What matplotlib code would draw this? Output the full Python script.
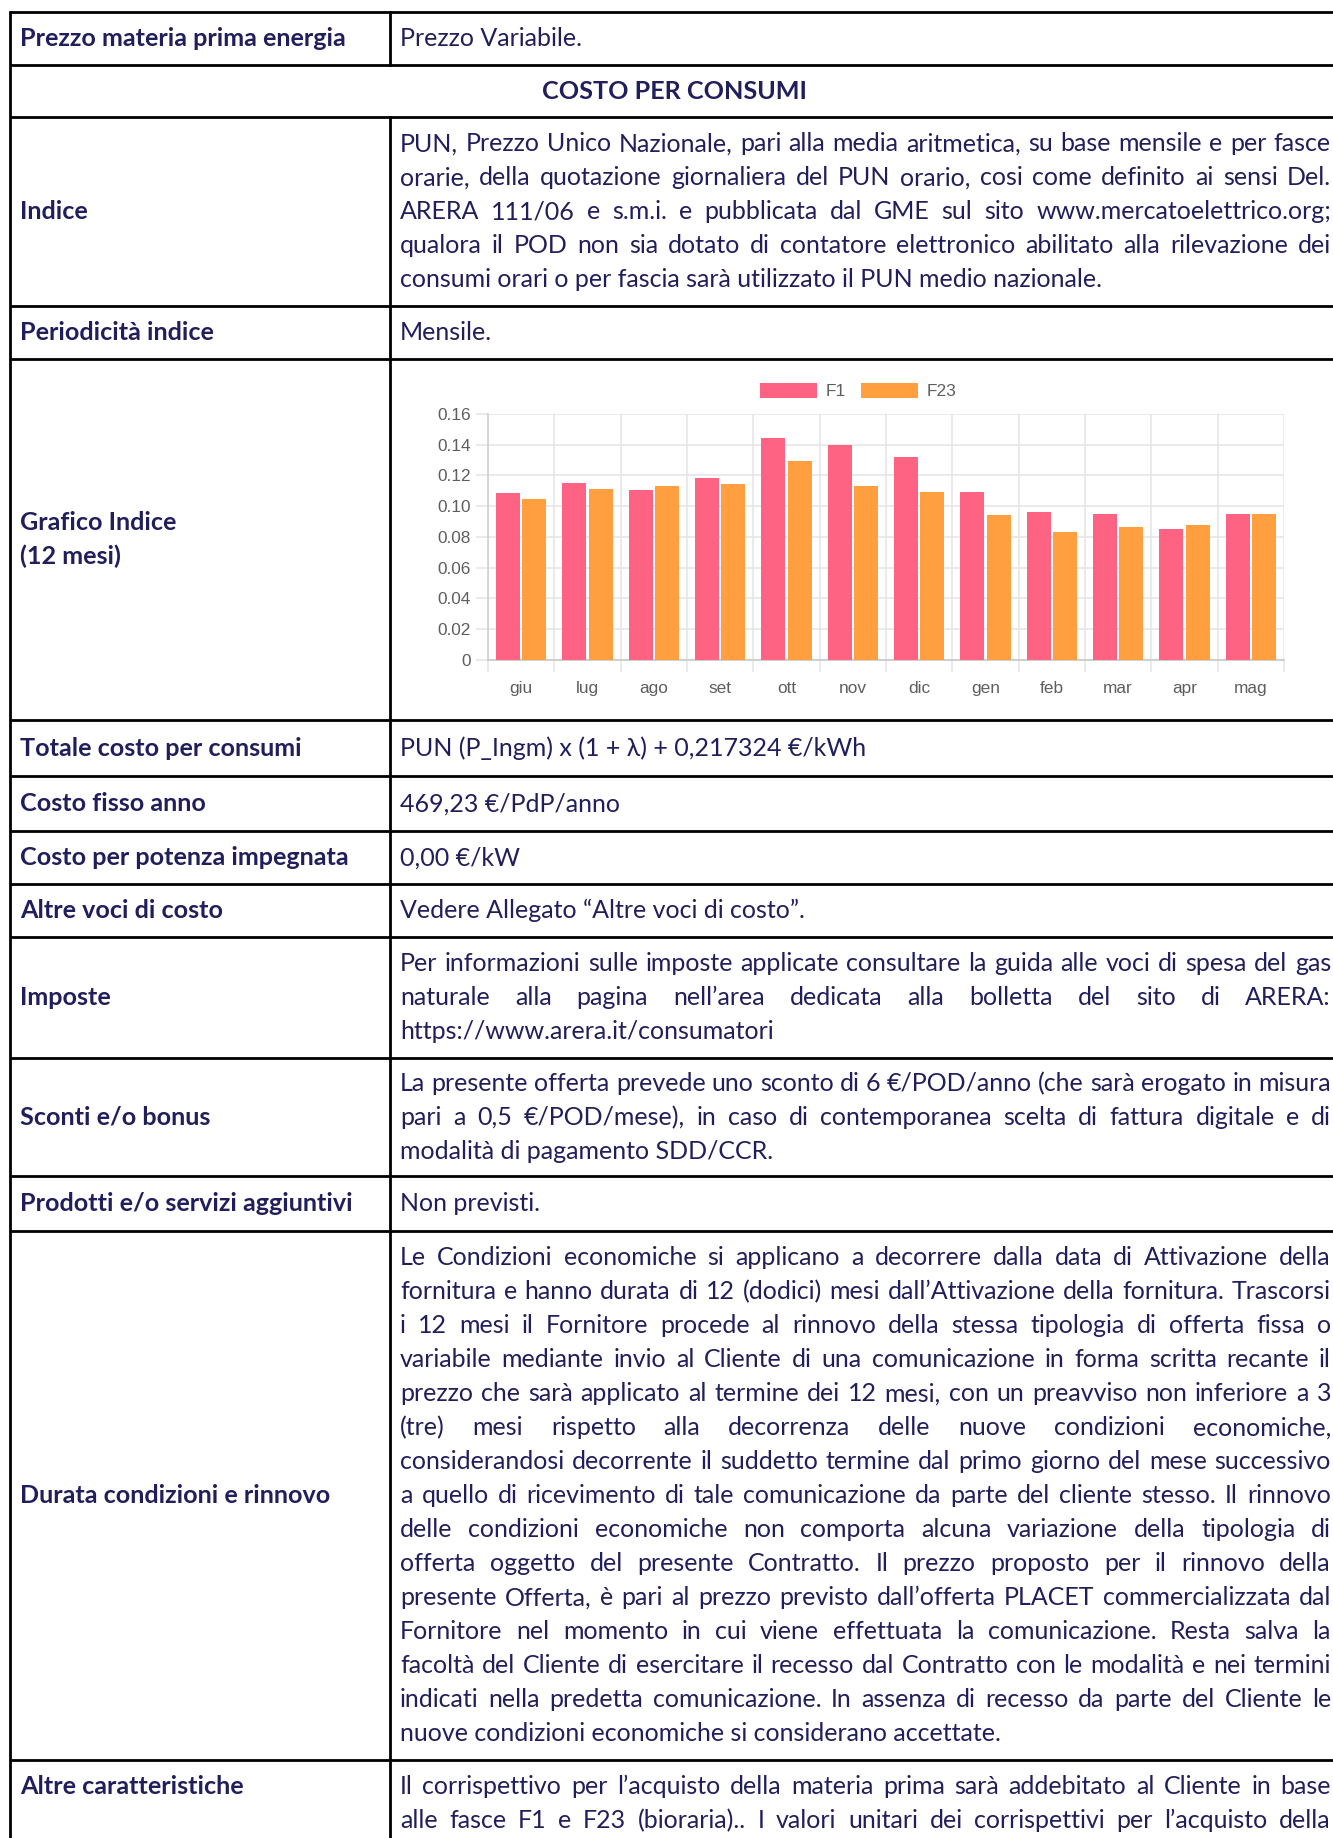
import matplotlib
matplotlib.use("Agg")
import matplotlib.pyplot as plt
from matplotlib.patches import Patch
import numpy as np

# ---------------- data ----------------
months = ["giu", "lug", "ago", "set", "ott", "nov", "dic", "gen", "feb", "mar", "apr", "mag"]
f1_values = [0.1083, 0.1151, 0.1104, 0.1186, 0.1445, 0.1397, 0.1320, 0.1095, 0.0962, 0.0949, 0.0854, 0.0949]
f23_values = [0.1044, 0.1111, 0.1130, 0.1143, 0.1294, 0.1132, 0.1095, 0.0942, 0.0835, 0.0863, 0.0875, 0.0949]
series_names = ["F1", "F23"]
y_ticks = [0, 0.02, 0.04, 0.06, 0.08, 0.10, 0.12, 0.14, 0.16]
y_tick_labels = ["0", "0.02", "0.04", "0.06", "0.08", "0.10", "0.12", "0.14", "0.16"]

row_labels = [
    ["Prezzo materia prima energia"],
    None,
    ["Indice"],
    ["Periodicità indice"],
    ["Grafico Indice", "(12 mesi)"],
    ["Totale costo per consumi"],
    ["Costo fisso anno"],
    ["Costo per potenza impegnata"],
    ["Altre voci di costo"],
    ["Imposte"],
    ["Sconti e/o bonus"],
    ["Prodotti e/o servizi aggiuntivi"],
    ["Durata condizioni e rinnovo"],
    ["Altre caratteristiche"],
]
header_text = "COSTO PER CONSUMI"
row_texts = [
    ["Prezzo Variabile."],
    None,
    ["PUN, Prezzo Unico Nazionale, pari alla media aritmetica, su base mensile e per fasce",
     "orarie, della quotazione giornaliera del PUN orario, cosi come definito ai sensi Del.",
     "ARERA 111/06 e s.m.i. e pubblicata dal GME sul sito www.mercatoelettrico.org;",
     "qualora il POD non sia dotato di contatore elettronico abilitato alla rilevazione dei",
     "consumi orari o per fascia sarà utilizzato il PUN medio nazionale."],
    ["Mensile."],
    None,
    ["PUN (P_Ingm) x (1 + λ) + 0,217324 €/kWh"],
    ["469,23 €/PdP/anno"],
    ["0,00 €/kW"],
    ["Vedere Allegato “Altre voci di costo”."],
    ["Per informazioni sulle imposte applicate consultare la guida alle voci di spesa del gas",
     "naturale alla pagina nell’area dedicata alla bolletta del sito di ARERA:",
     "https://www.arera.it/consumatori"],
    ["La presente offerta prevede uno sconto di 6 €/POD/anno (che sarà erogato in misura",
     "pari a 0,5 €/POD/mese), in caso di contemporanea scelta di fattura digitale e di",
     "modalità di pagamento SDD/CCR."],
    ["Non previsti."],
    ["Le Condizioni economiche si applicano a decorrere dalla data di Attivazione della",
     "fornitura e hanno durata di 12 (dodici) mesi dall’Attivazione della fornitura. Trascorsi",
     "i 12 mesi il Fornitore procede al rinnovo della stessa tipologia di offerta fissa o",
     "variabile mediante invio al Cliente di una comunicazione in forma scritta recante il",
     "prezzo che sarà applicato al termine dei 12 mesi, con un preavviso non inferiore a 3",
     "(tre) mesi rispetto alla decorrenza delle nuove condizioni economiche,",
     "considerandosi decorrente il suddetto termine dal primo giorno del mese successivo",
     "a quello di ricevimento di tale comunicazione da parte del cliente stesso. Il rinnovo",
     "delle condizioni economiche non comporta alcuna variazione della tipologia di",
     "offerta oggetto del presente Contratto. Il prezzo proposto per il rinnovo della",
     "presente Offerta, è pari al prezzo previsto dall’offerta PLACET commercializzata dal",
     "Fornitore nel momento in cui viene effettuata la comunicazione. Resta salva la",
     "facoltà del Cliente di esercitare il recesso dal Contratto con le modalità e nei termini",
     "indicati nella predetta comunicazione. In assenza di recesso da parte del Cliente le",
     "nuove condizioni economiche si considerano accettate."],
    ["Il corrispettivo per l’acquisto della materia prima sarà addebitato al Cliente in base",
     "alle fasce F1 e F23 (bioraria).. I valori unitari dei corrispettivi per l’acquisto della"],
]
justified_rows = {2, 9, 10, 12, 13}
continued_rows = {13}   # paragraph continues past the bottom edge

# ---------------- layout (pixels) ----------------
W, H = 1333, 1838
row_edges = [12, 65, 117, 306, 359, 720, 776, 831, 884, 937, 1058, 1176, 1231, 1760, 1900]
x_left, x_div, x_right = 9.5, 390, 1340
label_x = 20
text_x = 400
text_right = 1331
line_h = 34.0
text_color = "#201f5c"
font = "Lato"

fig = plt.figure(figsize=(W / 100, H / 100), dpi=100)
fig.patch.set_facecolor("white")
ax = fig.add_axes([0, 0, 1, 1])
ax.set_xlim(0, W)
ax.set_ylim(H, 0)
ax.axis("off")
renderer = fig.canvas.get_renderer()


def text_width(s, size, weight):
    t = ax.text(0, 0, s, fontsize=size, fontweight=weight, family=font)
    w = t.get_window_extent(renderer).width
    t.remove()
    return w


# fit font sizes to measured widths in the reference
reg_size = 10 * 706 / text_width("consumi orari o per fascia sarà utilizzato il PUN medio nazionale.", 10, "normal")
bold_size = 10 * 332 / text_width("Prodotti e/o servizi aggiuntivi", 10, "bold")
cap_half = 7.8

# borders
lw = 2.0
for y in row_edges[:-1]:
    ax.plot([x_left, x_right], [y, y], color="black", lw=lw, solid_capstyle="butt")
ax.plot([x_left, x_left], [row_edges[0], H + 5], color="black", lw=lw)
for i in range(len(row_edges) - 1):
    if i == 1:
        continue
    ax.plot([x_div, x_div], [row_edges[i], row_edges[i + 1]], color="black", lw=lw)


def place_lines(lines, x0, x1, ycenter, size, weight, justify, top_align=None, justify_last=False):
    n = len(lines)
    if top_align is None:
        first = ycenter - (n - 1) / 2 * line_h
    else:
        first = top_align
    for k, line in enumerate(lines):
        yb = first + k * line_h + cap_half
        last = (k == n - 1) and not justify_last
        if justify and not last and " " in line:
            words = line.split(" ")
            widths = [text_width(w, size, weight) for w in words]
            gap = (x1 - x0 - sum(widths)) / (len(words) - 1)
            x = x0
            for w, wd in zip(words, widths):
                ax.text(x, yb, w, fontsize=size, fontweight=weight, family=font,
                        color=text_color, va="baseline", ha="left")
                x += wd + gap
        else:
            ax.text(x0, yb, line, fontsize=size, fontweight=weight, family=font,
                    color=text_color, va="baseline", ha="left")


for i in range(len(row_labels)):
    y0, y1 = row_edges[i], row_edges[i + 1]
    yc = (y0 + y1) / 2
    top = None
    if i == len(row_labels) - 1:
        top = y0 + 26
    if i == 1:
        ax.text((x_left + x_right) / 2, yc + cap_half, header_text, fontsize=bold_size,
                fontweight="bold", family=font, color=text_color, ha="center", va="baseline")
        continue
    place_lines(row_labels[i], label_x, x_div - 10, yc, bold_size, "bold", False, top)
    if row_texts[i] is not None:
        place_lines(row_texts[i], text_x, text_right, yc, reg_size, "normal",
                    i in justified_rows, top, i in continued_rows)

# ---------------- chart ----------------
c_left, c_right, c_top, c_bottom = 488, 1284, 414, 660
cax = fig.add_axes([c_left / W, 1 - c_bottom / H, (c_right - c_left) / W, (c_bottom - c_top) / H])
xpos = np.arange(len(months))
bw = 0.36
cax.bar(xpos - 0.2, f1_values, width=bw, color="#ff6384", edgecolor="none", zorder=3)
cax.bar(xpos + 0.2, f23_values, width=bw, color="#ff9f40", edgecolor="none", zorder=3)
cax.set_xlim(-0.5, len(months) - 0.5)
cax.set_ylim(0, 0.16)
cax.set_yticks(y_ticks)
cax.set_yticklabels(y_tick_labels)
cax.set_xticks(xpos)
cax.set_xticklabels(months)
cax.set_xticks(np.arange(-0.5, len(months)), minor=True)
grid_c = "#e6e6e6"
cax.grid(axis="y", which="major", color=grid_c, lw=1.2, zorder=0)
cax.grid(axis="x", which="minor", color=grid_c, lw=1.2, zorder=0)
cax.tick_params(axis="x", which="major", length=0, pad=15, labelsize=12.4, labelcolor="#5e5e5e")
cax.tick_params(axis="x", which="minor", length=8.6, width=1.2, color=grid_c)
cax.tick_params(axis="y", length=8.6, width=1.2, color=grid_c, pad=3.6, labelsize=12.4,
                labelcolor="#5e5e5e")
for lab in cax.get_xticklabels() + cax.get_yticklabels():
    lab.set_family("Liberation Sans")
for s in ["top", "right"]:
    cax.spines[s].set_visible(False)
cax.spines["left"].set_color("#d0d0d0")
cax.spines["bottom"].set_color("#c8c8c8")
cax.spines["left"].set_linewidth(1.2)
cax.spines["bottom"].set_linewidth(1.2)
cax.set_facecolor("none")

handles = [Patch(facecolor="#ff6384", edgecolor="none"), Patch(facecolor="#ff9f40", edgecolor="none")]
leg = fig.legend(handles, series_names, loc="center", bbox_to_anchor=(858 / W, 1 - 391 / H),
                 ncol=2, frameon=False, handlelength=3.3, handleheight=1.0, handletextpad=0.5,
                 columnspacing=0.9, prop={"family": "Liberation Sans", "size": 12.4})
for t in leg.get_texts():
    t.set_color("#5e5e5e")

fig.savefig("out.png", dpi=100, facecolor="white")
